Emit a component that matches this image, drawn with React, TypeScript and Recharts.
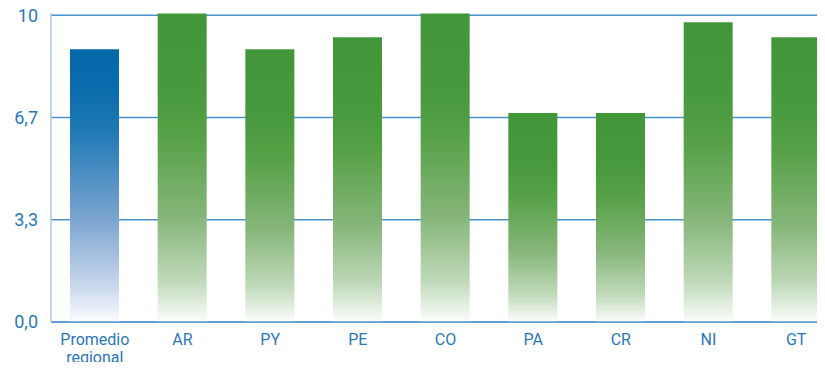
import React from "react";
import { BarChart, Bar, XAxis, YAxis, CartesianGrid, Cell } from "recharts";

const categories = ["Promedio regional", "AR", "PY", "PE", "CO", "PA", "CR", "NI", "GT"];
const values = [8.89, 10.05, 8.89, 9.28, 10.05, 6.81, 6.81, 9.77, 9.28];
const yTicks = [0, 3.333, 6.667, 10];
const yTickLabels = ["0,0", "3,3", "6,7", "10"];

const data = categories.map((c, i) => ({ name: c, value: values[i] }));

const FONT = "Roboto, 'Noto Sans', sans-serif";
const TEXT = "#2b78b6";

const XTick = (props: any) => {
  const { x, payload } = props;
  const words = String(payload.value).split(" ");
  return (
    <text x={x} y={345} textAnchor="middle" fill={TEXT} fontFamily={FONT} fontSize={16}>
      {words.map((w, i) => (
        <tspan key={i} x={x} y={345 + i * 18}>
          {w}
        </tspan>
      ))}
    </text>
  );
};

export default function App() {
  return (
    <div style={{ margin: -8, width: 825, height: 370, overflow: "hidden", background: "#fff" }}>
      <BarChart
        width={840}
        height={370}
        data={data}
        margin={{ top: 13, right: 0, bottom: 0, left: 0 }}
        barCategoryGap={0}
      >
        <defs>
          <linearGradient id="gBlue" x1="0" y1="0" x2="0" y2="1">
            <stop offset="0" stopColor="#0468a9" />
            <stop offset="0.15" stopColor="#0a6cac" />
            <stop offset="0.3" stopColor="#2079b5" />
            <stop offset="0.62" stopColor="#7ba4d0" />
            <stop offset="0.85" stopColor="#c3d3ea" />
            <stop offset="1" stopColor="#fbfcfe" />
          </linearGradient>
          <linearGradient id="gGreen" x1="0" y1="0" x2="0" y2="1">
            <stop offset="0" stopColor="#42963a" />
            <stop offset="0.25" stopColor="#48993d" />
            <stop offset="0.4" stopColor="#56a147" />
            <stop offset="0.66" stopColor="#86b67a" />
            <stop offset="0.86" stopColor="#bdd8b6" />
            <stop offset="1" stopColor="#fbfdfb" />
          </linearGradient>
        </defs>
        <CartesianGrid
          vertical={false}
          stroke="#4a92ca"
          strokeWidth={1.5}
          horizontalValues={yTicks}
        />
        <XAxis
          dataKey="name"
          height={48}
          interval={0}
          tickLine={false}
          tickSize={0}
          tickMargin={0}
          axisLine={{ stroke: "#5a9bd0", strokeWidth: 1.5 }}
          tick={<XTick />}
        />
        <YAxis
          width={51}
          domain={[0, 10.07]}
          ticks={yTicks}
          tickFormatter={(v: number) => yTickLabels[yTicks.indexOf(v)]}
          tickLine={false}
          tickSize={0}
          tickMargin={13}
          axisLine={{ stroke: "#a9c9e6", strokeWidth: 1.5 }}
          tick={{ fill: TEXT, fontFamily: FONT, fontSize: 18 }}
        />
        <Bar dataKey="value" barSize={49} isAnimationActive={false}>
          {data.map((d, i) => (
            <Cell key={d.name} fill={i === 0 ? "url(#gBlue)" : "url(#gGreen)"} />
          ))}
        </Bar>
      </BarChart>
    </div>
  );
}
